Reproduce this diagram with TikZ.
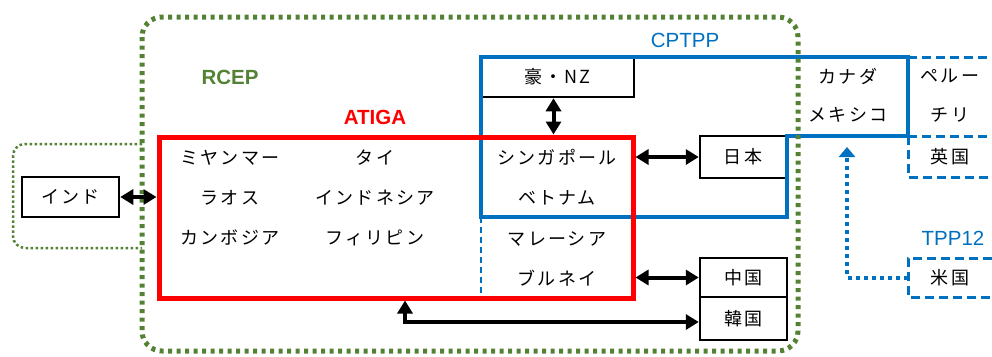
\documentclass[tikz,border=0pt]{standalone}
\usepackage{fontspec}
\setmainfont{Liberation Serif}
\newfontfamily\jp[LetterSpace=12]{Noto Sans CJK JP}
\newfontfamily\lab{Liberation Sans}
\usetikzlibrary{arrows.meta}
\definecolor{rgreen}{RGB}{84,130,53}
\definecolor{cblue}{RGB}{0,112,192}
\definecolor{ared}{RGB}{255,0,0}
\begin{document}
\begin{tikzpicture}[x=1pt,y=-1pt,
  jt/.style={font=\jp\fontsize{18}{18}\selectfont, inner sep=0pt, anchor=center},
  box/.style={draw=black, line width=2.5pt, inner sep=0pt, font=\jp\fontsize{18}{18}\selectfont},
  lbl/.style={font=\lab\fontsize{20.5}{20.5}\selectfont, inner sep=0pt},
  dbl/.style={line width=4pt, {Triangle[length=13pt,width=15pt]}-{Triangle[length=13pt,width=15pt]}},
  cpsolid/.style={draw=cblue, line width=4pt},
  tppdash/.style={draw=cblue, line width=3pt, dash pattern=on 9pt off 5pt},
  rcepline/.style={draw=rgreen, line width=5pt, dash pattern=on 4pt off 4.5pt, rounded corners=20pt},
  indline/.style={draw=rgreen, line width=2.5pt, dash pattern=on 2.5pt off 2.5pt, rounded corners=12pt},
  usarrow/.style={draw=cblue, line width=4pt, dash pattern=on 4pt off 4pt, -{Triangle[length=10pt,width=16pt]}}
]
\useasboundingbox (0,0) rectangle (992,356);

% black boxes
\node[box, minimum width=153pt, minimum height=40pt] (ausnz) at (557.5,77) {豪・NZ};
\node[box, minimum width=86pt, minimum height=42pt] (japan) at (743,157) {日本};
\node[box, minimum width=87pt, minimum height=39pt] (china) at (743.5,277.5) {中国};
\node[box, minimum width=87pt, minimum height=43pt] (korea) at (743.5,318.5) {韓国};
\node[box, minimum width=97pt, minimum height=40pt] (india) at (70.5,197) {インド};

% CPTPP solid outline
\draw[cpsolid] (481,57) -- (908,57) -- (908,136) -- (787,136) -- (787,217) -- (481,217) -- cycle;
% TPP12 dashed lines
\draw[tppdash] (908,57) -- (992,57);
\draw[tppdash] (908,136) -- (992,136);
\draw[tppdash] (908,136) -- (908,177) -- (992,177);
\node[inner sep=0pt, minimum width=84pt, minimum height=39pt] (usa) at (950,277.5) {};
\draw[tppdash] (992,258) -- (908,258) -- (908,297) -- (992,297);
\draw[draw=cblue, line width=1.5pt, dash pattern=on 6pt off 4pt] (481,217) -- (481,298);

% ATIGA box
\node[draw=ared, line width=5pt, minimum width=474pt, minimum height=161pt, inner sep=0pt] (atiga) at (396,217.5) {};

% texts
\node[jt] (t1) at (230,158) {ミヤンマー};
\node[jt] (t2) at (230,198) {ラオス};
\node[jt] (t3) at (230,238) {カンボジア};
\node[jt] (t4) at (375,158) {タイ};
\node[jt] (t5) at (375,198) {インドネシア};
\node[jt] (t6) at (375,238) {フィリピン};
\node[jt] (t7) at (557,157) {シンガポール};
\node[jt] (t8) at (557,198) {ベトナム};
\node[jt] (t9) at (557,239) {マレーシア};
\node[jt] (t10) at (557,278) {ブルネイ};
\node[jt] (t11) at (848,76) {カナダ};
\node[jt] (t12) at (848,115) {メキシコ};
\node[jt] (t13) at (950,76) {ペルー};
\node[jt] (t14) at (950,115) {チリ};
\node[jt] (t15) at (950,157) {英国};
\node[jt] at (usa) {米国};

% labels
\node[lbl, text=rgreen, font=\lab\bfseries\fontsize{20.5}{20.5}\selectfont] (rcep) at (230,77) {RCEP};
\node[lbl, text=ared, font=\lab\bfseries\fontsize{20.5}{20.5}\selectfont] (atigal) at (375,117) {ATIGA};
\node[lbl, text=cblue] (cptpp) at (685,40) {CPTPP};
\node[lbl, text=cblue] (tpp12) at (953,238) {TPP12};

% arrows
\draw[dbl] ([xshift=-4pt]ausnz.south) -- ([xshift=-4pt]ausnz.south |- atiga.north);
\draw[dbl] (japan.west -| atiga.east) -- (japan.west);
\draw[dbl] (china.west -| atiga.east) -- (china.west);
\coordinate (kbend) at (405,322);
\draw[dbl] (kbend -| korea.west) -- (kbend) -- (kbend |- atiga.south);
\coordinate (ubend) at (847,277.5);
\draw[usarrow] (usa.west) -- (ubend) -- (847,147);

% RCEP outline
\draw[indline] (142,144) -- (13,144) -- (13,248) -- (142,248);
\draw[rcepline] (142,17) rectangle (798,351);
\draw[dbl] (india.east) -- (india.east -| atiga.west);
\end{tikzpicture}
\end{document}
